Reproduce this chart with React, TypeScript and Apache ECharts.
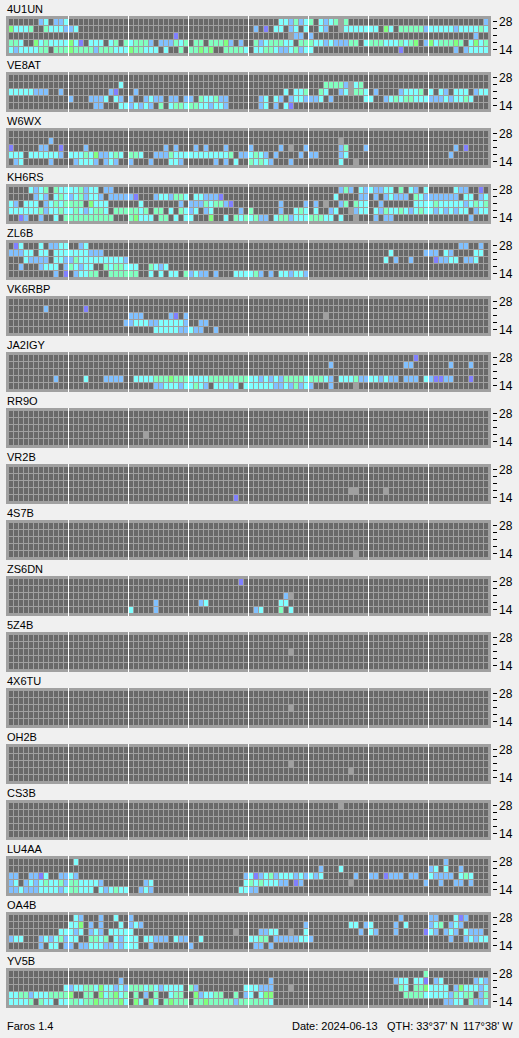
import React, { useEffect, useRef } from "react";
import * as echarts from "echarts";

const WIDTH = 519;
const HEIGHT = 1038;
const BANDS = ["28", "24", "21", "18", "14"];
const SHOWN_BANDS = ["28", "14"];
const SLOTS = 96;
const SLOT_MARKS = [12, 24, 36, 48, 60, 72, 84];
const E = "............";
const EMPTY_ROW = [E, E, E, E, E, E, E, E].join(" ");

// . no signal, x no data, p/b/c/t/g increasing signal level. Groups of 12 quarter-hours.
const R_4U1UN = [
  "......bc.bbc " + E + " " + E + " " + E + " ......ccbtbc t.cbctxt.... " + E + " ...........b",
  "gccct..tcccb bc.......... " + E + " " + E + " .b.p.cc.bc.c ..cb..xccccc cc.gc.tttttb cccccbcccctc",
  E + " " + E + " .........p.. " + E + " ........xbb. b........... " + E + " .........b..",
  "ttc..gctcccc gcp.ccc.ct.t ctttb.bbbtct .tt.tttgb.b. .tbctttcc.tt tccbcbbbtt.c tttccctctg.b gctttgt.cgct",
  "cbcccctt.ttt gttttbtttccc gttccc.c..t. ttgtg..ttttc .ccttcbbctbc c........... ......p..... .....b.bcccc",
];
const R_VE8AT = [
  EMPTY_ROW,
  E + " ..........c. " + E + " " + E + " " + E + " ...ttttbxct. " + E + " " + E,
  "cccccbbb..b. ........bp.. .b.......... " + E + " .......c.cct ..tc..bcxttc .b....bccct. c.cb.ccc.bcc",
  E + " b...bbbc.cb. b..bcbb.bb.b b.tcctbb.... ..bc.cb.bccb bbc.b......c c..bctcttccc bbbcbcctc...",
  E + " .....bb...cc bcbcb.t.cttc ttccbccb.... ..bc.b.cp... " + E + " " + E + " " + E,
];
const R_W6WX = [
  EMPTY_ROW,
  "........b... " + E + " " + E + " " + E + " " + E + " ......x..... " + E + " " + E,
  "p.....bb..p. ...b........ .......b.b.. .b.b...b.... b.....b.x..b ......bt...b " + E + " .....b.p....",
  "ccc.ccccccb. ccctcgbbctc. ttc..bbbtccc cccccccct.bb ctcb.b....b. bb....bc.... " + E + " ....b.......",
  ".bc.....b... .bcccb.bcb.. b...b...ccb. .....b.b.c.. tctcb...b... ......c..x.. " + E + " " + E,
];
const R_KH6RS = [
  "....cbct.tcc cctbcc.bb... " + E + " " + E + " " + E + " ......btb.cb cbbcc.t.cb.c .....cbb..p.",
  ".....bcb.ctc bctbccb.bbbb bp...bccbttc .ccbbbp..... " + E + " .....c....bb .b.bcbbb.tcb bbbbbb.cc.bc",
  "cb.ccc.bctct ttt.gccc.... ..c.......b. bbbtcttbp... ......b....b .b.x..bt.tcc ..b......ccc ctcccccbctct",
  "cccccctbcctc ctcbcttc.ttt ttct.tt.c.tc bc.bc.....b. t.....b..ctc .c..bc..xbcc .cbtcctcbctc cbcbcbcc.bcc",
  "..pb..b..c.t ttttttttt... tgccc.tt.c.c c...g..c.tct ctbb.cttbccc tttcc.c..x.. .b.bb....... ........b...",
];
const R_ZL6B = [
  ".pc...c.bbcc ..bc........ " + E + " " + E + " " + E + " " + E + " " + E + " ......bb..b.",
  "bbbcc.cc.ccc ccccbbb..... " + E + " " + E + " " + E + " " + E + " ....c......b bb.cb....cc.",
  "...cbbbb.ccb btcccccccccb " + E + " " + E + " " + E + " " + E + " ...c.b..b... .pbbcc.bbc..",
  "..b...bccc.b tcbcc..tcttc cc..tcbc.... " + E + " " + E + " " + E + " " + E + " " + E,
  ".........b.p .bcctt..tttt tt..c.c.cc.t bcbb.b...ccc ctb.b.ccbccb " + E + " " + E + " " + E,
];
const R_VK6RBP = [
  EMPTY_ROW,
  ".......b.... ...p........ " + E + " " + E + " " + E + " " + E + " " + E + " " + E,
  E + " " + E + " bbb.....bp.b " + E + " " + E + " ...x........ " + E + " " + E,
  E + " ...........b bcccbbcccccb ..bb........ " + E + " " + E + " " + E + " " + E,
  E + " " + E + " .....cccccbb cbb..b...... " + E + " " + E + " " + E + " " + E,
];
const R_JA2IGY = [
  E + " " + E + " " + E + " " + E + " " + E + " " + E + " .........p.. " + E,
  E + " " + E + " " + E + " " + E + " " + E + " ....b....... .......bb... ....b...b...",
  EMPTY_ROW,
  ".........b.. ...c...bbbb. .cccctttgttt cccctttttttt ccbcbcbttttc tttcb.ccctbb ccbcbb.bbb.c bppbb...p...",
  E + " " + E + " .....bbcccbc ctcb.cccbc.c cccccbbcbtbc b...b....x.. " + E + " " + E,
];
const R_RR9O = [
  EMPTY_ROW,
  EMPTY_ROW,
  EMPTY_ROW,
  E + " " + E + " ...x........ " + E + " " + E + " " + E + " " + E + " " + E,
  EMPTY_ROW,
];
const R_VR2B = [
  EMPTY_ROW,
  EMPTY_ROW,
  EMPTY_ROW,
  E + " " + E + " " + E + " " + E + " " + E + " ........xx.. ...x........ " + E,
  E + " " + E + " " + E + " .........p.. " + E + " " + E + " " + E + " " + E,
];
const R_4S7B = [
  EMPTY_ROW,
  EMPTY_ROW,
  EMPTY_ROW,
  EMPTY_ROW,
  E + " " + E + " " + E + " " + E + " " + E + " .........x.. " + E + " " + E,
];
const R_ZS6DN = [
  E + " " + E + " " + E + " ..........p. " + E + " " + E + " " + E + " " + E,
  EMPTY_ROW,
  E + " " + E + " " + E + " " + E + " .......bx... " + E + " " + E + " " + E,
  E + " " + E + " .....b...... ..bc........ ......cc.... " + E + " " + E + " " + E,
  E + " " + E + " c....b...... " + E + " .bc...t.c... " + E + " " + E + " " + E,
];
const R_5Z4B = [
  EMPTY_ROW,
  EMPTY_ROW,
  E + " " + E + " " + E + " " + E + " ........x... " + E + " " + E + " " + E,
  EMPTY_ROW,
  EMPTY_ROW,
];
const R_4X6TU = [
  EMPTY_ROW,
  EMPTY_ROW,
  E + " " + E + " " + E + " " + E + " ........x... " + E + " " + E + " " + E,
  EMPTY_ROW,
  EMPTY_ROW,
];
const R_OH2B = [
  EMPTY_ROW,
  EMPTY_ROW,
  E + " " + E + " " + E + " " + E + " ........x... " + E + " " + E + " " + E,
  E + " " + E + " " + E + " " + E + " " + E + " ........x... " + E + " " + E,
  EMPTY_ROW,
];
const R_CS3B = [
  E + " " + E + " " + E + " " + E + " " + E + " ......x..... " + E + " " + E,
  EMPTY_ROW,
  EMPTY_ROW,
  EMPTY_ROW,
  EMPTY_ROW,
];
const R_LU4AA = [
  E + " .c.......... " + E + " " + E + " " + E + " " + E + " " + E + " ...b........",
  E + " " + E + " " + E + " " + E + " " + E + " ..b...c..... " + E + " bc.c..b.....",
  "bb..bbpc..bb cb.......... " + E + " ...........b cpbctbcccbcb cbc......b.. bb.pbbb.bb.. cbbbb.ctc...",
  "bc.bcbctcctb ttccccb..... ...bc....... ...........c tctcccbb.pb. ........x... ...........b ..b..bb.b...",
  "bbcbbbccccbc ttccc.cbctcc ..bcb....... ..........cc bb.......... " + E + " " + E + " " + E,
];
const R_OA4B = [
  E + " .cb...b..c.. b........... " + E + " " + E + " " + E + " ......b..... bb...cpb....",
  E + " ccg.b.b...c. bcb......... " + E + " ...........b ........cc.b c....b.c.... bct.bcb.....",
  "..........cc cbc.bcb.cccc c........... .........x.. ..bbcc..x..c ..........b. cb...b.....p cb.bcb.cbbb.",
  "bcc...bcbctb cc..ttct.cbc cc.ccbbb.cbb ..c......... cctt.bbbbbcc b........... " + E + " ....b..bcbcc",
  "......b.cc.b b.bbcccbbcbc cc..b....... b........... .bb.b....... " + E + " " + E + " " + E,
];
const R_YV5B = [
  E + " " + E + " " + E + " " + E + " " + E + " " + E + " ...........t " + E,
  E + " ..........b. " + E + " " + E + " ....b....... " + E + " .....bcc.ccp .bc......bcb",
  "...........c bccttcgccbcb tttctcbcccc. tb.........c ccbbb...x... " + E + " ......tc.ttg cccc.bgcccbc",
  "ccttbccctttt g..tt.gctgct .t.b.t..ctt. .gbcctt..t.b c.cgg....... " + E + " .......ttttc ccccbtctt.bt",
  "cccct.tcc.cc ttcttgttttgc .gc.gc.tgttt .ttgtttttbtt ttttc....... " + E + " " + E + " ...bbcc.tbbc",
];

const STATIONS = ["4U1UN", "VE8AT", "W6WX", "KH6RS", "ZL6B", "VK6RBP", "JA2IGY", "RR9O", "VR2B", "4S7B", "ZS6DN", "5Z4B", "4X6TU", "OH2B", "CS3B", "LU4AA", "OA4B", "YV5B"];
const READINGS = [R_4U1UN, R_VE8AT, R_W6WX, R_KH6RS, R_ZL6B, R_VK6RBP, R_JA2IGY, R_RR9O, R_VR2B, R_4S7B, R_ZS6DN, R_5Z4B, R_4X6TU, R_OH2B, R_CS3B, R_LU4AA, R_OA4B, R_YV5B];

const LEVEL_COLORS: Record<string, string> = {
  ".": "#696969",
  x: "#a0a0a0",
  p: "#8080ff",
  b: "#80c0ff",
  c: "#80ffff",
  t: "#80ffc0",
  g: "#80ff80",
};
const FONT = "'Liberation Sans', Arial, sans-serif";
const PANEL_COLOR = "#a0a0a0";

function buildOption() {
  const grid: any[] = [];
  const xAxis: any[] = [];
  const yAxis: any[] = [];
  const series: any[] = [];
  const graphic: any[] = [];
  STATIONS.forEach((name, i) => {
    const top = 16 + 56 * i;
    graphic.push({ type: "rect", z: 0, shape: { x: 6, y: top, width: 485, height: 40 }, style: { fill: PANEL_COLOR } });
    graphic.push({
      type: "text", z: 5, x: 7, y: top - 7,
      style: { text: name, fill: "#000", font: `11px ${FONT}`, textVerticalAlign: "middle" },
    });
    grid.push({ left: 9, top: top + 2, width: 480, height: 35 });
    xAxis.push({ type: "value", gridIndex: i, min: 0, max: SLOTS, show: false });
    yAxis.push({
      type: "category", gridIndex: i, data: BANDS, inverse: true, position: "right", offset: 4,
      axisLine: { show: false },
      axisTick: { show: false },
      axisLabel: {
        show: true, interval: 0, margin: 6, color: "#000", fontSize: 12, fontFamily: FONT,
        formatter: (v: string) => (SHOWN_BANDS.includes(v) ? v : ""),
      },
      splitLine: { show: false },
    });
    const cells: any[] = [];
    READINGS[i].forEach((row, r) => {
      const chars = row.replace(/ /g, "");
      for (let c = 0; c < SLOTS; c++) cells.push([c, r, chars[c] || "."]);
    });
    series.push({
      type: "custom", xAxisIndex: i, yAxisIndex: i, coordinateSystem: "cartesian2d", silent: true, z: 2,
      encode: { x: 0, y: 1 },
      data: cells,
      renderItem: (_p: any, api: any) => {
        const pt = api.coord([api.value(0), api.value(1)]);
        return {
          type: "rect",
          shape: { x: pt[0], y: pt[1] - 2.5, width: 4, height: 6 },
          style: { fill: LEVEL_COLORS[cells[_p.dataIndex][2]] },
        };
      },
    });
    series.push({
      type: "custom", xAxisIndex: i, yAxisIndex: i, coordinateSystem: "cartesian2d", silent: true, z: 3,
      encode: { x: 0, y: 1 },
      data: SLOT_MARKS.map((m) => [m, 0]),
      renderItem: (_p: any, api: any) => {
        const pt = api.coord([api.value(0), api.value(1)]);
        return {
          type: "rect",
          shape: { x: pt[0] - 1, y: pt[1] - 5.5, width: 1, height: 40 },
          style: { fill: "#ffffff" },
        };
      },
    });
    // Band tick marks right of the panel, placed through the band axis.
    series.push({
      type: "custom", xAxisIndex: i, yAxisIndex: i, coordinateSystem: "cartesian2d", silent: true, z: 3,
      encode: { x: 0, y: 1 },
      clip: false,
      data: BANDS.map((_b, r) => [SLOTS, r]),
      renderItem: (_p: any, api: any) => {
        const pt = api.coord([api.value(0), api.value(1)]);
        return {
          type: "rect",
          shape: { x: pt[0] + 4, y: pt[1] - 0.5, width: 4, height: 1 },
          style: { fill: "#000000" },
        };
      },
    });
  });
  const footer: [string, number][] = [
    ["Faros 1.4", 7],
    ["Date: 2024-06-13", 292],
    ["QTH: 33°37' N", 387],
    ["117°38' W", 463],
  ];
  footer.forEach(([text, x]) => {
    graphic.push({
      type: "text", z: 5, x, y: 1026,
      style: { text, fill: "#000", font: `11px ${FONT}`, textVerticalAlign: "middle" },
    });
  });
  return { animation: false, backgroundColor: "#f0f0f0", grid, xAxis, yAxis, series, graphic };
}

export default function App() {
  const ref = useRef<HTMLDivElement>(null);
  useEffect(() => {
    document.body.style.margin = "0";
    document.body.style.overflow = "hidden";
    const chart = echarts.init(ref.current!, undefined, { renderer: "svg", width: WIDTH, height: HEIGHT });
    chart.setOption(buildOption() as any);
    return () => chart.dispose();
  }, []);
  return <div ref={ref} style={{ width: WIDTH, height: HEIGHT }} />;
}
